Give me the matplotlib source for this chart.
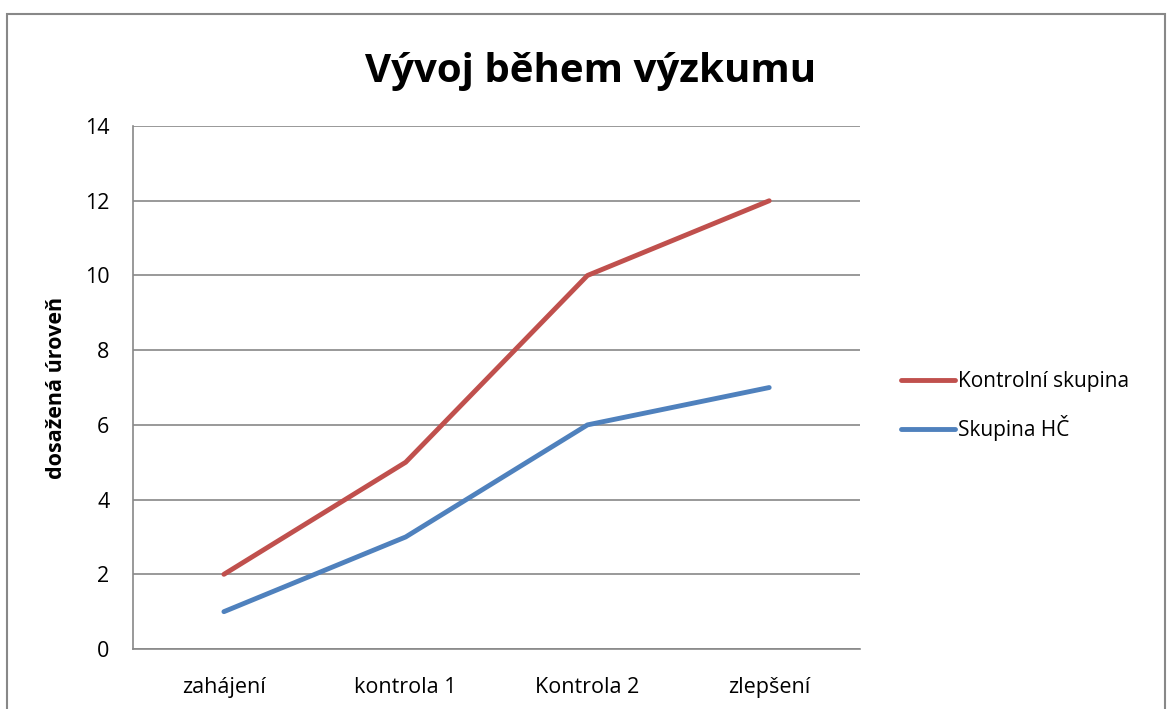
import matplotlib.pyplot as plt
from matplotlib.patches import Rectangle

plt.rcParams['font.family'] = ['Open Sans', 'DejaVu Sans']

categories = ['zahájení', 'kontrola 1', 'Kontrola 2', 'zlepšení']
kontrolni = [2, 5, 10, 12]
skupina_hc = [1, 3, 6, 7]

fig = plt.figure(figsize=(11.67, 7.09), dpi=100)
ax = fig.add_axes([0.114, 0.0846, 0.623, 0.7376])

x = range(len(categories))
ax.plot(x, kontrolni, color='#C0504D', lw=3.5, solid_capstyle='round', label='Kontrolní skupina')
ax.plot(x, skupina_hc, color='#4F81BD', lw=3.5, solid_capstyle='round', label='Skupina HČ')

ax.set_xlim(-0.5, len(categories) - 0.5)
ax.set_ylim(0, 14)
ax.set_yticks(range(0, 15, 2))
ax.set_xticks(list(x))
ax.set_xticklabels(categories)
ax.tick_params(axis='both', length=0, labelsize=15.5, pad=17)
ax.tick_params(axis='x', pad=20)
ax.yaxis.grid(True, color='#888888', lw=1.2)
ax.set_axisbelow(True)
for s in ['top', 'right']:
    ax.spines[s].set_visible(False)
for s in ['left', 'bottom']:
    ax.spines[s].set_color('#888888')
    ax.spines[s].set_linewidth(1.2)

ax.set_ylabel('dosažená úroveň', fontsize=15.5, fontweight='bold', labelpad=13)
fig.text(0.506, 0.899, 'Vývoj během výzkumu', ha='center', va='center',
         fontsize=29, fontweight='bold')

leg = ax.legend(loc='center left', bbox_to_anchor=(1.03, 0.465), frameon=False,
                fontsize=15, handlelength=2.6, handletextpad=0.15, labelspacing=1.1)

fig.patches.append(Rectangle((0.006, -0.01), 0.992, 0.99, transform=fig.transFigure,
                             fill=False, edgecolor='#888888', lw=1.5))

fig.savefig('out.png', dpi=100)
